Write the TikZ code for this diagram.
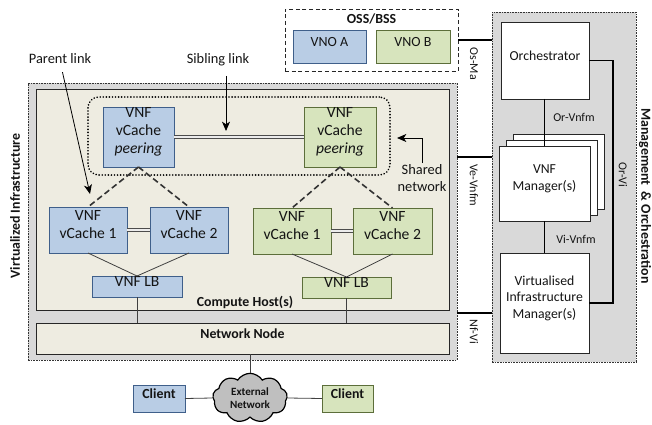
\documentclass[tikz,border=0pt]{standalone}
\usepackage{fontspec}
\setmainfont{Carlito}
\usetikzlibrary{fit,shapes.symbols,arrows.meta,calc}
\definecolor{bluef}{HTML}{B9CDE5}
\definecolor{bluel}{HTML}{3F5F8A}
\definecolor{greenf}{HTML}{D7E4BD}
\definecolor{greenl}{HTML}{5C6E3A}
\definecolor{beige}{HTML}{EEECE1}
\definecolor{lgray}{HTML}{D9D9D9}
\definecolor{lnk}{HTML}{404040}
\definecolor{cloudf}{HTML}{BFBFBF}
\definecolor{txt}{HTML}{141414}
\begin{document}
\begin{tikzpicture}[x=0.75pt,y=-0.75pt,
  fitbox/.style={inner sep=0pt, outer sep=0pt, text=txt},
  bluebox/.style={fitbox, draw=bluel, fill=bluef, line width=0.7pt, align=center, font=\fontsize{11.7}{13.5}\selectfont},
  greenbox/.style={fitbox, draw=greenl, fill=greenf, line width=0.7pt, align=center, font=\fontsize{11.7}{13.5}\selectfont},
  clientbox/.style={font=\bfseries\fontsize{10.4}{12}\selectfont},
  whitebox/.style={fitbox, draw=black!85, fill=white, line width=0.6pt, align=center, font=\fontsize{10.3}{12.5}\selectfont},
  areabox/.style={fitbox, draw=black!80, line width=0.5pt, dash pattern=on 1.2pt off 0.8pt, fill=lgray},
  hostbox/.style={fitbox, draw=black!85, line width=0.6pt, fill=beige},
  thinlink/.style={draw=lnk, line width=0.6pt},
  parentlink/.style={draw=black!80, line width=1.2pt, dash pattern=on 4.5pt off 2.5pt},
  dbl/.style={draw=black!70, line width=0.6pt, double=white!85!gray, double distance=1.3pt},
  mline/.style={draw=black, line width=1.1pt},
  ilabel/.style={text=txt, font=\fontsize{9}{10}\selectfont, inner sep=1pt},
  note/.style={text=txt, font=\fontsize{10.8}{12.5}\selectfont, align=center, inner sep=1pt},
  boldlabel/.style={text=txt, font=\bfseries\fontsize{10.4}{12}\selectfont, inner sep=1pt},
  arr/.style={draw=black, line width=0.6pt, -{Stealth[length=7pt,width=6pt,inset=2pt]}}
]
\useasboundingbox (0,0) rectangle (652,424);

% Virtualized infrastructure
\node[areabox, fit={(28,83) (457,360)}] (vi) {};
\node[hostbox, fit={(36,89) (449,310)}] (ch) {};
\node[hostbox, fit={(36,323) (449,354)}, font=\bfseries\fontsize{10.4}{12}\selectfont] (nn) {Network Node};
\node[boldlabel] (chl) at (245,302) {Compute Host(s)};
\node[boldlabel, rotate=90] (vil) at (15,206) {Virtualized Infrastructure};

% shared network
\node[fitbox, draw=black, line width=1.3pt, dash pattern=on 0.1pt off 2.2pt, line cap=round, rounded corners=8pt, fit={(88,97) (390,175)}] (sh) {};

\node[bluebox, fit={(103,107) (174,167)}] (pb) {VNF\\vCache\\\textit{peering}};
\node[greenbox, fit={(304,107) (376,167)}] (pg) {VNF\\vCache\\\textit{peering}};

\node[bluebox, fit={(49,207) (127,253)}] (b1) {VNF\\vCache 1};
\node[bluebox, fit={(150,207) (228,253)}] (b2) {VNF\\vCache 2};
\node[greenbox, fit={(253,208) (331,254)}] (g1) {VNF\\vCache 1};
\node[greenbox, fit={(353,208) (432,254)}] (g2) {VNF\\vCache 2};

\node[bluebox, fit={(92,276) (182,297)}] (lbb) {VNF LB};
\node[greenbox, fit={(302,277) (391,298)}] (lbg) {VNF LB};

\draw[dbl] (pb.east) -- (pg.west);
\draw[dbl] (b1.east) -- (b2.west);
\draw[dbl] (g1.east) -- (g2.west);
\draw[parentlink] (pb.south) -- (b1.north);
\draw[parentlink] (pb.south) -- (b2.north);
\draw[parentlink] (pg.south) -- (g1.north);
\draw[parentlink] (pg.south) -- (g2.north);
\draw[thinlink] (b1.south) -- (lbb.north);
\draw[thinlink] (b2.south) -- (lbb.north);
\draw[thinlink] (g1.south) -- (lbg.north);
\draw[thinlink] (g2.south) -- (lbg.north);
\draw[thinlink] (lbb.south) -- (lbb.south |- nn.north);
\draw[thinlink] (lbg.south) -- (lbg.south |- nn.north);

% notes and arrows
\node[note] (par) at (60,59) {Parent link};
\node[note] (sib) at (218,60) {Sibling link};
\node[note] (shn) at (422,178) {Shared\\network};
\coordinate (partip) at (90,194);
\coordinate (sibtip) at (226,131);
\coordinate (shtip) at (397,138);
\coordinate (parx) at (61,0);
\draw[arr, shorten <=5pt] (par.south -| parx) -- (partip);
\draw[arr, shorten <=6pt] (sib.south -| sibtip) -- (sibtip);
\draw[arr] (shn.north) |- (shtip);

% external network and clients
\node[cloud, draw=black, fill=cloudf, line width=0.9pt, cloud puffs=9, cloud puff arc=115, cloud ignores aspect,
      minimum width=56pt, minimum height=37pt, inner sep=0pt, align=center, text=txt,
      font=\bfseries\fontsize{8.3}{9.5}\selectfont] (cloud) at (250,398) {External\\Network};
\node[bluebox, clientbox, fit={(133,385) (185,412)}] (cb) {Client};
\node[greenbox, clientbox, fit={(322,385) (373,412)}] (cg) {Client};
\draw[thinlink] (cloud.north) -- (cloud.north |- nn.south);
\draw[thinlink] (cb.east) -- (cloud.west);
\draw[thinlink] (cloud.east) -- (cg.west);

% OSS/BSS
\node[fitbox, draw=black!85, line width=0.6pt, dash pattern=on 3pt off 2pt, fill=white, fit={(285,9) (458,71)}] (oss) {};
\node[boldlabel] (ossl) at (371.5,19) {OSS/BSS};
\node[bluebox, font=\fontsize{10.5}{12}\selectfont, fit={(293,30) (366,63)}] (vnoa) {VNO A};
\node[greenbox, font=\fontsize{10.5}{12}\selectfont, fit={(376,30) (450,63)}] (vnob) {VNO B};

% MANO
\node[areabox, fit={(492,12) (636,362)}] (mano) {};
\node[boldlabel, rotate=-90] (manol) at (645,196) {Management\ \ \& Orchestration};
\node[whitebox, fit={(501,22) (589,99)}] (orch) {Orchestrator};
\node[whitebox, fit={(513,134) (604,209)}] (vnfm3) {};
\node[whitebox, fit={(506,140) (597,215)}] (vnfm2) {};
\node[whitebox, fit={(499,146) (590,221)}] (vnfm) {VNF\\Manager(s)};
\node[whitebox, fit={(500,253) (589,353)}] (vim) {Virtualised\\Infrastructure\\Manager(s)};
\draw[mline] (orch.south -| vnfm.north) -- (vnfm.north);
\draw[mline] (vnfm.south) -- (vnfm.south |- vim.north);
\coordinate (orvi) at (613,0);
\draw[mline] (orch.east) -- (orch.east -| orvi) |- (vim.east);
\node[ilabel] (orvnfm) at (574,117) {Or-Vnfm};
\node[ilabel] (vivnfm) at (576,239) {Vi-Vnfm};
\node[ilabel, rotate=-90] (orvil) at (623,175) {Or-Vi};

% interfaces
\coordinate (vevy) at (0,157);
\coordinate (nfvy) at (0,313);
\draw[mline] (oss.east) -- (oss.east -| mano.west);
\draw[mline] (vi.east |- vevy) -- (mano.west |- vevy);
\draw[mline] (vi.east |- nfvy) -- (mano.west |- nfvy);
\node[ilabel, rotate=-90, anchor=west] (osma) at (474,46) {Os-Ma};
\node[ilabel, rotate=-90, anchor=west] (vevnfm) at (474,163) {Ve-Vnfm};
\node[ilabel, rotate=-90, anchor=west] (nfvi) at (474,318) {Nf-Vi};
\end{tikzpicture}
\end{document}
